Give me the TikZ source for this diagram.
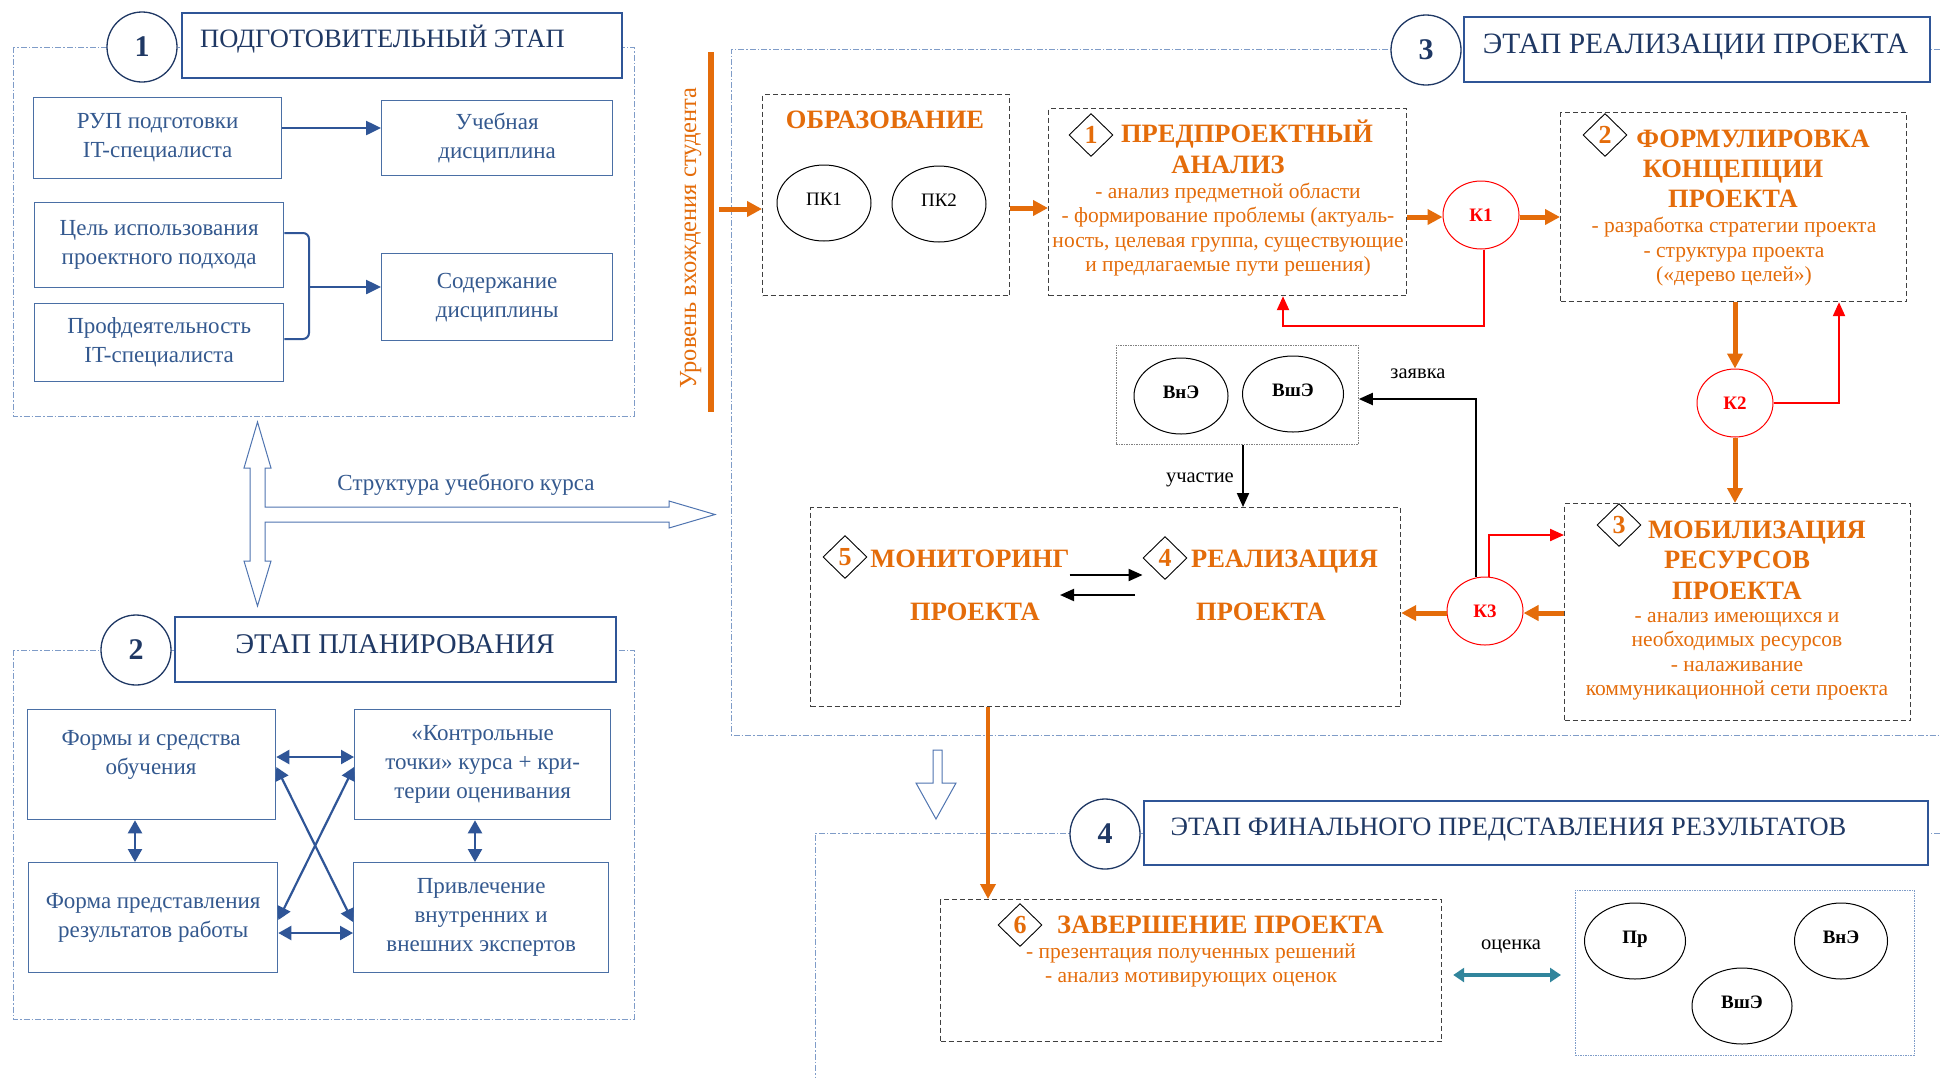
\documentclass[tikz,border=0pt]{standalone}
\usepackage{fontspec}
\setmainfont{Liberation Serif}
\usetikzlibrary{arrows.meta,shapes.geometric}
\definecolor{navyc}{HTML}{1F3864}
\definecolor{tbord}{HTML}{2F5597}
\definecolor{bbord}{HTML}{4A6FA5}
\definecolor{btxt}{HTML}{34598F}
\definecolor{barr}{HTML}{2F5597}
\definecolor{holc}{HTML}{4F74B0}
\definecolor{framec}{HTML}{7F9CC8}
\definecolor{orng}{HTML}{E46C0A}
\definecolor{dgray}{HTML}{404040}
\definecolor{tealc}{HTML}{31859C}
\newcommand\setfs[2]{\fontsize{#1}{#2}\selectfont}
\begin{document}
\begin{tikzpicture}[x=1pt,y=-1pt,
  frame/.style={draw=framec, line width=1pt, dash pattern=on 6pt off 2pt on 1.5pt off 2pt},
  numcirc/.style={circle, draw=navyc, line width=1.3pt, fill=white, minimum size=70pt, inner sep=0pt,
    font=\setfs{30}{30}\bfseries, text=navyc},
  titlebox/.style={draw=tbord, line width=1.5pt, fill=white, anchor=north west, inner sep=0pt},
  ttext/.style={text=navyc, font=\setfs{26.5}{30}, inner sep=0pt},
  bbox/.style={draw=bbord, line width=1.3pt, anchor=north west, inner sep=0pt},
  btext/.style={text=btxt, align=center, font=\setfs{23}{29}, inner sep=0pt},
  barrow/.style={draw=barr, line width=2.5pt, -{Triangle[length=15pt,width=14pt]}},
  bdarrow/.style={draw=barr, line width=2.2pt, {Triangle[length=13pt,width=14pt]}-{Triangle[length=13pt,width=14pt]}},
  hollow/.style={draw=holc, line width=1pt, fill=white, line join=miter},
  dbox/.style={draw=dgray, line width=1.2pt, dash pattern=on 5pt off 3pt, anchor=north west, inner sep=0pt},
  dotbox/.style={draw=gray, line width=0.8pt, dash pattern=on 1.5pt off 1pt, anchor=north west, inner sep=0pt},
  dotboxb/.style={draw=framec, line width=0.8pt, dash pattern=on 1.5pt off 1pt, anchor=north west, inner sep=0pt},
  otitle/.style={text=orng, font=\setfs{26.5}{30}\bfseries, anchor=base, inner sep=0pt},
  obody/.style={text=orng, font=\setfs{21.5}{24.5}, align=center, inner sep=0pt},
  diam/.style={diamond, draw=black, line width=0.9pt, fill=white, minimum width=44pt, minimum height=43pt,
    inner sep=0pt, text=orng, font=\setfs{26}{26}\bfseries},
  kcirc/.style={ellipse, draw=red, line width=1pt, minimum width=76pt, minimum height=68pt, text=red,
    font=\setfs{19}{19}\bfseries, inner sep=0pt},
  pcirc/.style={ellipse, draw=black, line width=1pt, inner sep=0pt, text height=13pt, text depth=9pt,
    font=\setfs{19}{19}},
  oarrow/.style={draw=orng, line width=5pt, -{Triangle[length=15pt,width=15pt]}},
  rarrow/.style={draw=red, line width=2.2pt, -{Triangle[length=14pt,width=12pt]}},
  karrow/.style={draw=black, line width=2pt, -{Triangle[length=14pt,width=12pt]}},
  tarrow/.style={draw=tealc, line width=3.5pt, {Triangle[length=11pt,width=14pt]}-{Triangle[length=11pt,width=14pt]}},
  lbl/.style={text=black, font=\setfs{20.5}{22}, inner sep=0pt}
]
\useasboundingbox (0,0) rectangle (1940,1077);
\fill[white] (0,0) rectangle (1940,1077);

% ---------- 1: preparatory stage ----------
\draw[frame] (13,47) rectangle (634,416);
\node[numcirc] (c1) at (142,47) {1};
\node[titlebox, minimum width=440pt, minimum height=65pt] (t1) at (181,12) {};
\node[ttext, anchor=base west] (t1txt) at (200,47) {ПОДГОТОВИТЕЛЬНЫЙ ЭТАП};

\node[bbox, btext, minimum width=248pt, minimum height=81pt] (rup) at (33,97) {РУП подготовки\\IT-специалиста};
\node[bbox, btext, minimum width=231pt, minimum height=75pt] (ucheb) at (381,100) {Учебная\\дисциплина};
\node[bbox, btext, minimum width=249pt, minimum height=85pt] (cel) at (34,202) {Цель использования\\проектного подхода};
\node[bbox, btext, minimum width=249pt, minimum height=78pt] (prof) at (34,303) {Профдеятельность\\IT-специалиста};
\node[bbox, btext, minimum width=231pt, minimum height=87pt] (sod) at (381,253) {Содержание\\дисциплины};

\draw[barrow] (rup.east |- 0,128) -- (ucheb.west |- 0,128);
\draw[draw=barr, line width=2pt, rounded corners=6pt] (cel.east |- 0,233) -- (309,233) -- (309,339) -- (prof.east |- 0,339);
\coordinate (brk) at (309,287);
\draw[barrow] (brk) -- (sod.west |- brk);

% ---------- course structure arrow ----------
\draw[hollow] (257.5,422) -- (271,468) -- (265,468) -- (265,507) -- (669,507) -- (669,501) -- (715,514.5)
  -- (669,528) -- (669,522) -- (265,522) -- (265,561) -- (271,561) -- (257.5,606) -- (244,561)
  -- (250,561) -- (250,468) -- (244,468) -- cycle;
\node[btext, anchor=base] (struct) at (466,490) {Структура учебного курса};

% ---------- 2: planning stage ----------
\draw[frame] (13,650) rectangle (634,1019);
\node[numcirc] (c2) at (136,650) {2};
\node[titlebox, minimum width=441pt, minimum height=65pt] (t2) at (174,616) {};
\node[ttext, font=\setfs{28.5}{30}, anchor=base] (t2txt) at (395,653) {ЭТАП ПЛАНИРОВАНИЯ};

\node[bbox, minimum width=248pt, minimum height=110pt] (forms) at (27,709) {};
\node[btext] (formsT) at (151,755) {Формы и средства\\обучения};
\node[bbox, btext, minimum width=256pt, minimum height=110pt] (ctrl) at (354,709) {«Контрольные\\точки» курса + кри-\\терии оценивания};
\node[bbox, btext, minimum width=249pt, minimum height=110pt] (present) at (28,862) {Форма представления\\результатов работы};
\node[bbox, btext, minimum width=255pt, minimum height=110pt] (experts) at (353,862) {Привлечение\\внутренних и\\внешних экспертов};

\draw[bdarrow] (forms.east |- 0,757) -- (ctrl.west |- 0,757);
\draw[bdarrow] (present.east |- 0,933) -- (experts.west |- 0,933);
\draw[bdarrow] (forms.south -| 135,0) -- (present.north -| 135,0);
\draw[bdarrow] (ctrl.south -| 475,0) -- (experts.north -| 475,0);
\draw[bdarrow] (forms.east |- 0,767) -- (experts.west |- 0,922);
\draw[bdarrow] (ctrl.west |- 0,767) -- (present.east |- 0,920);

% ---------- 3: project implementation stage ----------
\draw[frame] (1940,49) -- (731,49) -- (731,735) -- (1940,735);
\node[numcirc] (c3) at (1426,50) {3};
\node[titlebox, minimum width=466pt, minimum height=65pt] (t3) at (1463,16) {};
\node[ttext, font=\setfs{29.5}{30}, anchor=base] (t3txt) at (1695.5,53) {ЭТАП РЕАЛИЗАЦИИ ПРОЕКТА};

\draw[orng, line width=6pt] (711,52) -- (711,412);
\node[text=orng, rotate=90, anchor=base, inner sep=0pt, font=\setfs{24.5}{26}] (lvl) at (696,238) {Уровень вхождения студента};

\node[dbox, minimum width=247pt, minimum height=201pt] (obr) at (762,94) {};
\node[otitle] (obrT) at (885,128) {ОБРАЗОВАНИЕ};
\node[pcirc, minimum width=94pt, minimum height=76pt] (pk1) at (824,203) {ПК1};
\node[pcirc, minimum width=94pt, minimum height=76pt] (pk2) at (939,204) {ПК2};

\node[dbox, minimum width=358pt, minimum height=187pt] (pp) at (1048,108) {};
\node[diam] (d1) at (1091,135) {1};
\node[otitle] (ppT1) at (1247,142) {ПРЕДПРОЕКТНЫЙ};
\node[otitle] (ppT2) at (1228,173) {АНАЛИЗ};
\node[obody] (ppB) at (1228,229.6) {- анализ предметной области\\- формирование проблемы (актуаль-\\ность, целевая группа, существующие\\и предлагаемые пути решения)};

\node[kcirc] (k1) at (1481,215) {К1};

\node[dbox, minimum width=346pt, minimum height=189pt] (fk) at (1560,112) {};
\node[diam] (d2) at (1605,135) {2};
\node[otitle] (fkT1) at (1753,147) {ФОРМУЛИРОВКА};
\node[otitle] (fkT2) at (1733,177) {КОНЦЕПЦИИ};
\node[otitle] (fkT3) at (1733,207) {ПРОЕКТА};
\node[obody] (fkB) at (1734,252) {- разработка стратегии проекта\\- структура проекта\\(«дерево целей»)};

\node[kcirc] (k2) at (1735,403) {К2};

\node[dbox, minimum width=346pt, minimum height=217pt] (mr) at (1564,503) {};
\node[diam] (d3) at (1619,525) {3};
\node[otitle] (mrT1) at (1757,538) {МОБИЛИЗАЦИЯ};
\node[otitle] (mrT2) at (1737,568) {РЕСУРСОВ};
\node[otitle] (mrT3) at (1737,599) {ПРОЕКТА};
\node[obody] (mrB) at (1737,656) {- анализ имеющихся и\\необходимых ресурсов\\- налаживание\\коммуникационной сети проекта};

\node[kcirc] (k3) at (1485,611) {К3};

\node[dotbox, minimum width=242pt, minimum height=99pt] (exp) at (1116,345) {};
\node[pcirc, minimum width=94pt, minimum height=76pt, font=\setfs{19}{19}\bfseries] (vne) at (1181,396) {ВнЭ};
\node[pcirc, minimum width=101pt, minimum height=76pt, font=\setfs{19}{19}\bfseries] (vshe) at (1293,394) {ВшЭ};

\node[dbox, minimum width=590pt, minimum height=199pt] (rp) at (810,507) {};
\node[diam] (d5) at (845,557) {5};
\node[otitle] (monT) at (970,567) {МОНИТОРИНГ};
\node[otitle] (monT2) at (975,620) {ПРОЕКТА};
\node[diam] (d4) at (1165,558) {4};
\node[otitle] (realT) at (1284.5,567) {РЕАЛИЗАЦИЯ};
\node[otitle] (realT2) at (1261,620) {ПРОЕКТА};
\draw[karrow] (monT.east |- 0,575) -- (d4.west |- 0,575);
\coordinate (backS) at (1135,595);
\coordinate (backE) at (1060,595);
\draw[karrow] (backS) -- (backE);

% flow of the stage
\coordinate (barpt) at (719,209);
\draw[oarrow] (barpt) -- (obr.west |- barpt);
\draw[oarrow] (obr.east |- 0,208) -- (pp.west |- 0,208);
\draw[oarrow] (pp.east |- 0,217) -- (k1.west |- 0,217);
\draw[oarrow] (k1.east |- 0,217) -- (fk.west |- 0,217);
\draw[oarrow] (fk.south -| k2) -- (k2.north);
\draw[oarrow] (k2.south) -- (mr.north -| k2);
\draw[oarrow] (mr.west |- 0,613) -- (k3.east |- 0,613);
\draw[oarrow] (k3.west |- 0,613) -- (rp.east |- 0,613);

\draw[rarrow] (k1.south -| 1484,0) -- (1484,326) -- (1283,326) -- (pp.south -| 1283,0);
\draw[rarrow] (k2.east) -- (1839,403) -- (fk.south -| 1839,0);
\draw[rarrow] (k3.north -| 1489,0) -- (1489,535) -- (mr.west |- 0,535);

\draw[karrow] (k3.north -| 1476,0) -- (1476,399) -- (exp.east |- 0,399);
\draw[karrow] (exp.south -| 1243,0) -- (rp.north -| 1243,0);
\node[lbl] (zayavka) at (1418,374) {заявка};
\node[lbl, anchor=base east] (uchastie) at (1234,482) {участие};

% ---------- 4: final presentation stage ----------
\draw[hollow] (933,750) -- (942,750) -- (942,783) -- (956,783) -- (936,819) -- (916,783) -- (933,783) -- cycle;
\draw[frame] (1940,833) -- (815,833) -- (815,1077);
\node[numcirc] (c4) at (1105,834) {4};
\node[titlebox, minimum width=784pt, minimum height=64pt] (t4) at (1143,800) {};
\node[ttext, anchor=base] (t4txt) at (1508.5,835) {ЭТАП ФИНАЛЬНОГО ПРЕДСТАВЛЕНИЯ РЕЗУЛЬТАТОВ};

\node[dbox, minimum width=501pt, minimum height=142pt] (zp) at (940,899) {};
\node[diam] (d6) at (1020,925) {6};
\node[otitle] (zpT) at (1220.5,933) {ЗАВЕРШЕНИЕ ПРОЕКТА};
\node[obody, font=\setfs{21.5}{24}] (zpB) at (1191,965.6) {- презентация полученных решений\\- анализ мотивирующих оценок};

\draw[oarrow, line width=3.5pt] (rp.south -| 988,0) -- (zp.north -| 988,0);

\node[dotboxb, minimum width=339pt, minimum height=165pt] (rbox) at (1575,890) {};
\node[pcirc, minimum width=101pt, minimum height=76pt, font=\setfs{19}{19}\bfseries] (pr) at (1635,941) {Пр};
\node[pcirc, minimum width=93pt, minimum height=76pt, font=\setfs{19}{19}\bfseries] (vne2) at (1841,941) {ВнЭ};
\node[pcirc, minimum width=100pt, minimum height=76pt, font=\setfs{19}{19}\bfseries] (vshe2) at (1742,1006) {ВшЭ};

\draw[tarrow, shorten <=11pt, shorten >=14pt] (zp.east |- 0,975) -- (rbox.west |- 0,975);
\node[lbl, anchor=base] (ocenka) at (1511,949) {оценка};
\end{tikzpicture}
\end{document}
